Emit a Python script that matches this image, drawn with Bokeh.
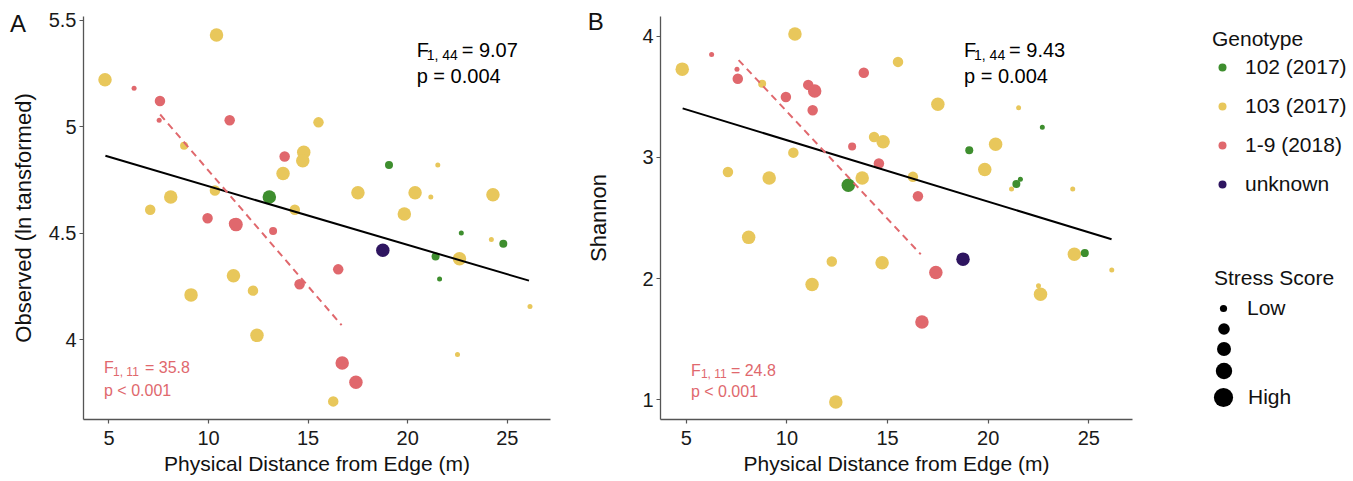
import numpy as np
from bokeh.plotting import figure
from bokeh.models import ColumnDataSource, Label, Legend, LegendItem, Range1d, FixedTicker
from bokeh.layouts import row
from bokeh.embed import file_html
from bokeh.resources import INLINE

FONT = "Liberation Sans"

# ---------------- data ----------------
genotype_names = ["102 (2017)", "103 (2017)", "1-9 (2018)", "unknown"]
genotype_colors = ["#3E8E2E", "#E8C75B", "#E0686D", "#2E1560"]

stress_levels = [1, 2, 3, 4]
point_sizes = [5, 8, 10.5, 13.5]
legend_key_sizes = [7, 11.5, 14, 16.5, 19]
legend_key_labels = ["Low", " ", " ", " ", "High"]

distance = [4.80, 8.77, 10.40, 10.32, 7.07, 9.12, 8.10, 11.25, 12.23, 12.43,
            13.74, 14.33, 14.78, 14.73, 15.52, 16.26, 17.50, 19.83, 20.37, 21.51,
            21.16, 22.50, 22.60, 24.20, 24.28, 26.14,
            13.05, 19.06, 21.40, 21.60, 22.69, 24.80,
            18.75,
            6.26, 7.52, 7.56, 9.95, 11.06, 11.28, 11.38, 13.82, 13.24, 14.57,
            16.51, 17.40, 16.71]
observed = [5.22, 4.91, 5.43, 4.70, 4.61, 4.21, 4.67, 4.30, 4.23, 4.02,
            4.78, 4.61, 4.88, 4.84, 5.02, 3.71, 4.69, 4.59, 4.69, 4.82,
            4.67, 3.93, 4.38, 4.47, 4.68, 4.155,
            4.67, 4.82, 4.39, 4.285, 4.50, 4.45,
            4.42,
            5.18, 5.03, 5.12, 4.57, 5.03, 4.545, 4.54, 4.86, 4.51, 4.26,
            4.33, 3.80, 3.89]
shannon = [3.73, 3.61, 4.02, 3.04, 2.88, 2.83, 2.34, 1.95, 2.14, 0.98,
           2.83, 3.17, 3.13, 2.13, 3.79, 2.84, 3.44, 2.90, 3.11, 3.41,
           2.74, 1.94, 1.87, 2.74, 2.20, 2.07,
           2.77, 3.06, 2.78, 2.82, 3.25, 2.21,
           2.16,
           3.85, 3.73, 3.65, 3.50, 3.60, 3.39, 3.55, 3.70, 3.09, 2.95,
           2.68, 2.05, 1.64]
genotype = ["103 (2017)"] * 26 + ["102 (2017)"] * 6 + ["unknown"] + ["1-9 (2018)"] * 13
stress = [4, 2, 4, 3, 3, 4, 4, 4, 3, 4,
          4, 3, 4, 4, 3, 3, 4, 4, 4, 1,
          1, 1, 4, 1, 4, 1,
          4, 2, 2, 1, 1, 2,
          4,
          1, 1, 3, 3, 3, 3, 4, 3, 2, 3,
          3, 4, 4]

# fitted lines (end points)
fit_all_a_x = [4.82, 26.09]
fit_all_a_y = [4.863, 4.277]
fit_red_a_x = [7.57, 16.68]
fit_red_a_y = [5.057, 4.068]
fit_all_b_x = [4.82, 26.13]
fit_all_b_y = [3.406, 2.324]
fit_red_b_x = [7.60, 16.65]
fit_red_b_y = [3.805, 2.200]

x_ticks = [5, 10, 15, 20, 25]
x_tick_labels = ["5", "10", "15", "20", "25"]
ya_ticks = [4, 4.5, 5, 5.5]
ya_tick_labels = ["4", "4.5", "5", "5.5"]
yb_ticks = [1, 2, 3, 4]
yb_tick_labels = ["1", "2", "3", "4"]

color_map = dict(zip(genotype_names, genotype_colors))
size_map = dict(zip(stress_levels, point_sizes))
colors = [color_map[g] for g in genotype]
sizes = [size_map[s] for s in stress]

RED = color_map["1-9 (2018)"]
H = 481
TOP_A, TOP_B, BOTTOM = 14, 16, 62


def style_axes(p, x_title, y_title, y_ticks, y_labels, y_title_standoff):
    p.xgrid.visible = False
    p.ygrid.visible = False
    p.outline_line_color = None
    xa, ya = p.xaxis[0], p.yaxis[0]
    xa.ticker = FixedTicker(ticks=x_ticks)
    xa.major_label_overrides = dict(zip(x_ticks, x_tick_labels))
    ya.ticker = FixedTicker(ticks=y_ticks)
    ya.major_label_overrides = dict(zip(y_ticks, y_labels))
    xa.axis_label = x_title
    ya.axis_label = y_title
    for ax in (xa, ya):
        ax.axis_line_color = "#555555"
        ax.axis_line_width = 1.3
        ax.major_tick_line_color = "#555555"
        ax.major_tick_line_width = 1.2
        ax.major_tick_out = 4
        ax.major_tick_in = 0
        ax.minor_tick_line_color = None
        ax.major_label_text_font = FONT
        ax.major_label_text_font_size = "20px"
        ax.major_label_text_color = "#1a1a1a"
        ax.axis_label_text_font = FONT
        ax.axis_label_text_font_style = "normal"
        ax.axis_label_text_color = "#111111"
    xa.major_label_standoff = 7
    ya.major_label_standoff = 3
    xa.axis_label_text_font_size = "21px"
    ya.axis_label_text_font_size = "22px"
    xa.axis_label_standoff = 4
    ya.axis_label_standoff = y_title_standoff


def add_stat(p, x, y1, y2, fsize, subsize, sub_dx, sub_dy, eq_dx, sub, eq, ptxt, color):
    common = dict(x_units="data", y_units="data", text_font=FONT, text_color=color,
                  text_baseline="alphabetic", text_align="left")
    p.add_layout(Label(x=x, y=y1, text="F", text_font_size=fsize, **common))
    p.add_layout(Label(x=x, y=y1, x_offset=sub_dx, y_offset=sub_dy, text=sub,
                       text_font_size=subsize, **common))
    p.add_layout(Label(x=x, y=y1, x_offset=eq_dx, text=eq, text_font_size=fsize, **common))
    p.add_layout(Label(x=x, y=y2, text=ptxt, text_font_size=fsize, **common))


def panel_letter(p, letter, x, y):
    # placed in a side panel so that it is not clipped to the plot frame
    p.add_layout(Label(x=x, y=y, x_units="data", y_units="data", text=letter,
                       text_font=FONT, text_font_size="24px", text_color="#111111",
                       text_baseline="alphabetic", text_align="left"), "right")


# ---------------- panel A ----------------
src_a = ColumnDataSource(dict(x=distance, y=observed, c=colors, s=sizes))
pa = figure(width=583, height=H, x_range=Range1d(3.72, 27.17), y_range=Range1d(3.625, 5.517),
            output_backend="svg", toolbar_location=None,
            min_border_left=83, min_border_right=33, min_border_top=TOP_A, min_border_bottom=BOTTOM)
style_axes(pa, "Physical Distance from Edge (m)", "Observed (ln tansformed)", ya_ticks, ya_tick_labels, 10)
pa.scatter("x", "y", size="s", fill_color="c", line_color=None, source=src_a)
pa.line(fit_all_a_x, fit_all_a_y, line_color="black", line_width=2)
pa.line(fit_red_a_x, fit_red_a_y, line_color=RED, line_width=2, line_dash="7 5")
add_stat(pa, 20.45, 5.359, 5.238, "20px", "14px", 10, -5, 45, "1, 44", "= 9.07", "p = 0.004", "black")
add_stat(pa, 4.75, 3.867, 3.760, "16px", "12px", 9, -4, 41, "1, 11", "= 35.8", "p < 0.001", RED)
panel_letter(pa, "A", 0.03, 5.485)

# ---------------- panel B ----------------
src_b = ColumnDataSource(dict(x=distance, y=shannon, c=colors, s=sizes))
pb = figure(width=569, height=H, x_range=Range1d(3.72, 27.17), y_range=Range1d(0.835, 4.165),
            output_backend="svg", toolbar_location=None,
            min_border_left=74, min_border_right=20, min_border_top=TOP_B, min_border_bottom=BOTTOM)
style_axes(pb, "Physical Distance from Edge (m)", "Shannon", yb_ticks, yb_tick_labels, 28)
pb.scatter("x", "y", size="s", fill_color="c", line_color=None, source=src_b)
pb.line(fit_all_b_x, fit_all_b_y, line_color="black", line_width=2)
pb.line(fit_red_b_x, fit_red_b_y, line_color=RED, line_width=2, line_dash="7 5")
add_stat(pb, 18.80, 3.89, 3.676, "20px", "14px", 10, -5, 45, "1, 44", "= 9.43", "p = 0.004", "black")
add_stat(pb, 5.23, 1.244, 1.063, "16px", "12px", 10, -4, 40, "1, 11", "= 24.8", "p < 0.001", RED)
panel_letter(pb, "B", 0.10, 4.12)

# ---------------- legend panel ----------------
LW = 200
pl = figure(width=LW, height=H, x_range=Range1d(0, 1), y_range=Range1d(0, 1),
            output_backend="svg", toolbar_location=None,
            x_axis_location=None, y_axis_location=None,
            min_border_left=0, min_border_right=0, min_border_top=TOP_A, min_border_bottom=BOTTOM)
pl.outline_line_color = None
pl.grid.visible = False
FRAME_BOTTOM = H - BOTTOM   # page y of the legend frame's bottom edge

leg_common = dict(padding=0, margin=0, border_line_color=None, background_fill_alpha=0,
                  label_text_font=FONT, label_text_font_size="21px", label_text_color="#111111",
                  title_text_font=FONT, title_text_font_size="21px", title_text_font_style="normal",
                  title_text_color="#111111", inactive_fill_alpha=0)

# key renderers (no visible points of their own: coordinates are NaN)
geno_src = ColumnDataSource(dict(x=np.full(len(genotype_names), np.nan),
                                 y=np.full(len(genotype_names), np.nan),
                                 c=genotype_colors))
geno_r = pl.scatter("x", "y", size=8, fill_color="c", line_color=None, source=geno_src)
geno_items = [LegendItem(label=name, renderers=[geno_r], index=i)
              for i, name in enumerate(genotype_names)]
pl.add_layout(Legend(items=geno_items, location=(60, FRAME_BOTTOM - 196), title="Genotype",
                     title_standoff=4, glyph_width=20, glyph_height=20, spacing=15,
                     label_standoff=13, **leg_common))

stress_src = ColumnDataSource(dict(x=np.full(len(legend_key_sizes), np.nan),
                                   y=np.full(len(legend_key_sizes), np.nan),
                                   s=legend_key_sizes))
stress_r = pl.scatter("x", "y", size="s", fill_color="black", line_color=None, source=stress_src)

key_cx = 71
key_cy = [308, 328, 348, 370, 397]   # page layout positions of the size keys
label_x = 95
for i, (sz, lab) in enumerate(zip(legend_key_sizes, legend_key_labels)):
    gw = int(round(sz / 0.4))
    gh = max(gw, 24)
    loc = (key_cx - gw / 2, FRAME_BOTTOM - (key_cy[i] + gh / 2))
    standoff = max(int(round(label_x - (key_cx + gw / 2))), 1)
    extra = dict(title="Stress Score", title_standoff=6) if i == 0 else {}
    leg = Legend(items=[LegendItem(label=lab, renderers=[stress_r], index=i)], location=loc,
                 glyph_width=gw, glyph_height=gh, label_standoff=standoff,
                 **extra, **leg_common)
    pl.add_layout(leg)

layout = row(pa, pb, pl)
open("out.html", "w").write(file_html(layout, INLINE))
